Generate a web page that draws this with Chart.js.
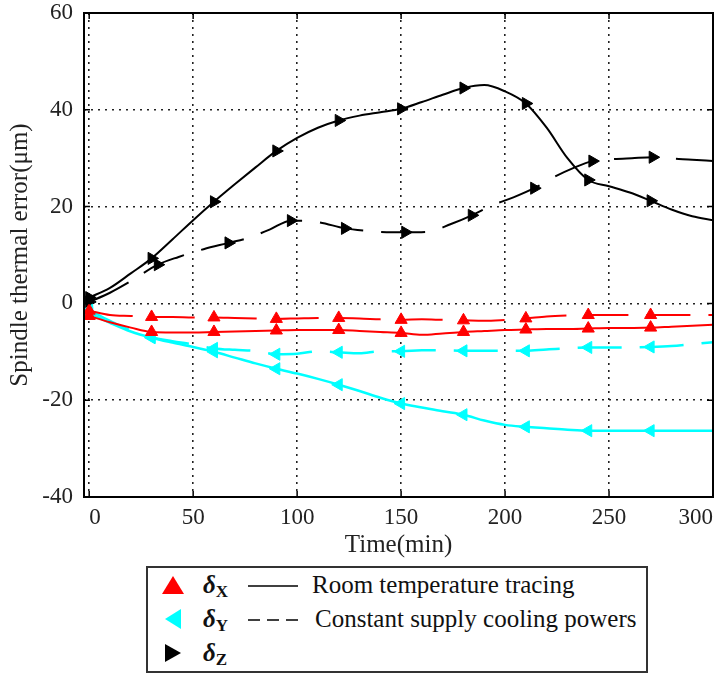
<!DOCTYPE html>
<html>
<head>
<meta charset="utf-8">
<script src="https://cdn.jsdelivr.net/npm/chart.js@4.4.1/dist/chart.umd.min.js"></script>
<style>
  body { margin: 0; background: #fff; width: 721px; height: 677px; overflow: hidden;
         font-family: "Liberation Serif", "Times New Roman", serif; color: #111; }
  #wrap { position: absolute; left: 0; top: 0; width: 721px; height: 560px; }
  #legend { position: absolute; left: 146px; top: 566px; width: 502px; height: 107px;
            border: 2px solid #333; box-sizing: border-box; }
  #legend .it { position: absolute; }
  #legend .txt { font-size: 25px; line-height: 34px; white-space: nowrap; }
  #legend .d { font-size: 25px; line-height: 34px; font-weight: bold; }
  #legend .d i { font-style: italic; }
  #legend .d sub { font-size: 17px; font-style: normal; vertical-align: -4px; }
</style>
</head>
<body>
<div id="wrap"><canvas id="chart" width="721" height="560"></canvas></div>

<div id="legend">
  <svg class="it" style="left:13px;top:5px" width="24" height="24"><polygon points="12,3 23,21 1,21" fill="#ff0000"/></svg>
  <div class="it d" style="left:55px;top:0px"><i>δ</i><sub>X</sub></div>
  <svg class="it" style="left:100px;top:15px" width="52" height="6"><line x1="0" y1="3" x2="50" y2="3" stroke="#000" stroke-width="1.5"/></svg>
  <div class="it txt" style="left:164px;top:0px">Room temperature tracing</div>

  <svg class="it" style="left:13px;top:39px" width="24" height="24"><polygon points="4,12 20,2 20,22" fill="#00ffff"/></svg>
  <div class="it d" style="left:55px;top:34px"><i>δ</i><sub>Y</sub></div>
  <svg class="it" style="left:100px;top:49px" width="52" height="6"><line x1="0" y1="3" x2="50" y2="3" stroke="#000" stroke-width="1.5" stroke-dasharray="12 7"/></svg>
  <div class="it txt" style="left:167px;top:34px">Constant supply cooling powers</div>

  <svg class="it" style="left:13px;top:73px" width="24" height="24"><polygon points="20,12 4,3 4,21" fill="#000"/></svg>
  <div class="it d" style="left:55px;top:68px"><i>δ</i><sub>Z</sub></div>
</div>

<script>
// time axis (min)
const timeMin = [0, 10, 20, 30, 40, 50, 60, 70, 80, 90, 100, 110, 120, 130, 140, 150,
                 160, 170, 180, 190, 200, 210, 220, 230, 240, 250, 260, 270, 280, 290, 300];
const markTimes = [0, 30, 60, 90, 120, 150, 180, 210, 240, 270];

// room temperature tracing (solid)
const errXRoom = [-2.6, -3.9, -5.0, -5.9, -6.0, -6.0, -5.9, -5.8, -5.7, -5.6, -5.5, -5.5, -5.5, -5.7, -5.9, -6.1,
                  -6.5, -6.2, -5.9, -5.7, -5.5, -5.4, -5.3, -5.3, -5.2, -5.1, -5.1, -5.0, -4.8, -4.6, -4.4];
const errYRoom = [-2.0, -4.0, -5.8, -7.1, -8.1, -9.0, -10.0, -11.2, -12.4, -13.5, -14.5, -15.6, -16.8, -18.1, -19.5, -20.7,
                  -21.5, -22.3, -23.0, -24.2, -25.1, -25.5, -25.8, -26.1, -26.3, -26.3, -26.3, -26.3, -26.3, -26.3, -26.3];
const errZRoom = [1.2, 3.2, 6.2, 9.3, 13.2, 17.2, 21.0, 24.6, 28.1, 31.5, 34.2, 36.3, 37.8, 38.8, 39.5, 40.2,
                  41.6, 43.1, 44.5, 45.1, 43.8, 41.3, 36.3, 30.0, 25.5, 24.2, 22.9, 21.2, 19.4, 18.0, 17.2];

// constant supply cooling powers (dashed)
const errXConst = [-1.5, -2.4, -2.6, -2.8, -2.8, -2.9, -2.9, -3.0, -3.1, -3.2, -3.1, -3.0, -3.0, -3.1, -3.3, -3.4,
                   -3.3, -3.4, -3.5, -3.6, -3.4, -3.1, -2.7, -2.5, -2.4, -2.4, -2.4, -2.4, -2.4, -2.4, -2.4];
const errYConst = [-1.4, -3.6, -5.6, -7.0, -7.8, -8.5, -9.3, -9.6, -9.8, -10.5, -10.4, -9.9, -10.1, -10.3, -9.9, -9.9,
                   -9.7, -9.7, -9.8, -9.8, -9.8, -9.8, -9.5, -9.3, -9.1, -9.1, -9.1, -9.0, -8.8, -8.4, -8.0];
const zConstTime = [0, 10, 20, 33, 43, 55, 67, 77, 87, 97, 110, 123, 133, 143, 152, 163,
                    174, 184, 194, 204, 214, 224, 233, 242, 252, 261, 271, 281, 290, 300];
const zConstMarks = [0, 33, 67, 97, 123, 152, 184, 214, 242, 271];
const errZConst = [0.3, 2.2, 4.6, 8.0, 9.6, 11.2, 12.5, 13.6, 15.3, 17.1, 16.8, 15.5, 15.0, 14.7, 14.7, 14.8,
                   16.4, 18.2, 20.3, 21.9, 23.8, 26.2, 28.0, 29.4, 29.8, 30.0, 30.2, 29.9, 29.7, 29.4];

const xTicks = [0, 50, 100, 150, 200, 250, 300];
const yTicks = [-40, -20, 0, 20, 40, 60];

function series(times, values, marks, color, dashed, rot, width) {
  return {
    data: times.map((t, i) => ({ x: t, y: values[i] })),
    borderColor: color,
    backgroundColor: color,
    borderWidth: width,
    borderDash: dashed ? [44, 18] : [],
    cubicInterpolationMode: "monotone",
    pointStyle: "triangle",
    pointRotation: rot,
    pointRadius: c => marks.includes(times[c.dataIndex]) ? 7 : 0,
    pointBorderWidth: 1,
    pointBorderColor: color,
    pointBackgroundColor: color,
    fill: false
  };
}

// box frame with inward ticks, like the original plot
const framePlugin = {
  id: "frame",
  afterDatasetsDraw(chart) {
    const { ctx, chartArea: a, scales } = chart;
    ctx.save();
    ctx.strokeStyle = "#000";
    ctx.lineWidth = 2;
    ctx.setLineDash([]);
    ctx.strokeRect(a.left, a.top, a.right - a.left, a.bottom - a.top);
    ctx.lineWidth = 1.5;
    ctx.beginPath();
    xTicks.forEach(v => {
      const px = scales.x.getPixelForValue(v);
      ctx.moveTo(px, a.bottom); ctx.lineTo(px, a.bottom - 6);
      ctx.moveTo(px, a.top); ctx.lineTo(px, a.top + 6);
    });
    yTicks.forEach(v => {
      const py = scales.y.getPixelForValue(v);
      ctx.moveTo(a.left, py); ctx.lineTo(a.left + 6, py);
      ctx.moveTo(a.right, py); ctx.lineTo(a.right - 6, py);
    });
    ctx.stroke();
    ctx.restore();
  }
};

Chart.defaults.font.family = "Liberation Serif";
const tickFont = { family: "Liberation Serif", size: 23 };
const titleFont = { family: "Liberation Serif", size: 25 };
const gridOpts = { color: "#222", lineWidth: 1.6, drawTicks: false };

new Chart(document.getElementById("chart"), {
  type: "line",
  data: {
    datasets: [
      series(timeMin, errXRoom, markTimes, "#ff0000", false, 0, 2),
      series(timeMin, errXConst, markTimes, "#ff0000", true, 0, 2),
      series(timeMin, errYRoom, markTimes, "#00ffff", false, -90, 2.5),
      series(timeMin, errYConst, markTimes, "#00ffff", true, -90, 2.5),
      series(timeMin, errZRoom, markTimes, "#000000", false, 90, 2),
      series(zConstTime, errZConst, zConstMarks, "#000000", true, 90, 2)
    ]
  },
  options: {
    responsive: false,
    animation: false,
    layout: { padding: { left: 0, top: 13, right: 8, bottom: 0 } },
    plugins: { legend: { display: false }, tooltip: { enabled: false } },
    scales: {
      x: {
        type: "linear",
        min: -2.5,
        max: 300,
        afterBuildTicks: s => { s.ticks = xTicks.map(v => ({ value: v })); },
        afterFit: s => { s.height = 63; },
        ticks: { align: "inner", padding: 7, font: tickFont, color: "#222",
                 maxRotation: 0, autoSkip: false, callback: v => String(v) },
        grid: gridOpts,
        border: { display: false, dash: [2, 5] },
        title: { display: true, text: "Time(min)", font: titleFont, color: "#222",
                 padding: { top: 0, bottom: 0 } }
      },
      y: {
        min: -40,
        max: 60,
        afterBuildTicks: s => { s.ticks = yTicks.map(v => ({ value: v })); },
        afterFit: s => { s.width = 84; s.paddingTop = 0; s.paddingBottom = 0; },
        ticks: { padding: 11, font: tickFont, color: "#222", callback: v => String(v) },
        grid: gridOpts,
        border: { display: false, dash: [2, 5] },
        title: { display: true, text: "Spindle thermal error(μm)", font: titleFont, color: "#222",
                 padding: { top: 5, bottom: 0 } }
      }
    }
  },
  plugins: [framePlugin]
});
</script>
</body>
</html>
